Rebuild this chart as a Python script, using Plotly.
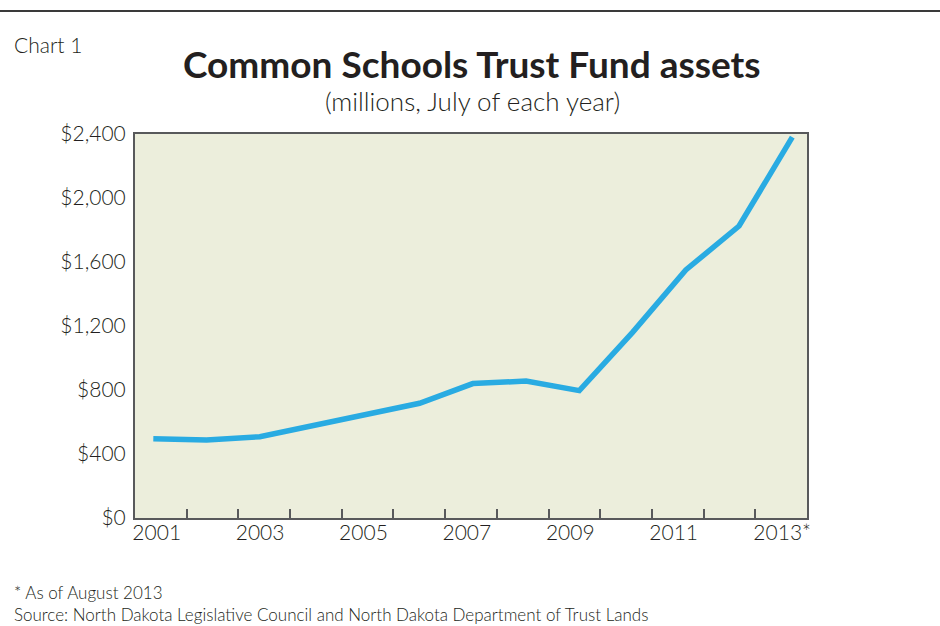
import plotly.graph_objects as go

# ---- data ----
years = [2001, 2002, 2003, 2004, 2005, 2006, 2007, 2008, 2009, 2010, 2011, 2012, 2013]
assets = [495, 488, 508, 580, 648, 717, 840, 856, 796, 1160, 1550, 1825, 2380]
x_tick_labels = ["2001", "2003", "2005", "2007", "2009", "2011", "2013*"]
y_tick_values = [0, 400, 800, 1200, 1600, 2000, 2400]
y_tick_labels = ["$0", "$400", "$800", "$1,200", "$1,600", "$2,000", "$2,400"]

FONT = "Lato"
TXT = "#231f20"
LINE = "#29abe2"
BG = "#eceedc"
AX = "#58595b"

fig = go.Figure()
fig.add_trace(go.Scatter(
    x=years, y=assets, mode="lines",
    line=dict(color=LINE, width=5.5),
    showlegend=False, hoverinfo="x+y",
))
# helper (empty) traces so the overlaid category axes are drawn
fig.add_trace(go.Scatter(x=[None], y=[None], xaxis="x2", showlegend=False, hoverinfo="skip"))
fig.add_trace(go.Scatter(x=[None], y=[None], xaxis="x3", showlegend=False, hoverinfo="skip"))

n_slots = len(years)
tick_marks = list(range(1, n_slots))
label_pos = [0.42 + 2 * i for i in range(len(x_tick_labels))]
label_pos[-1] += 0.1  # account for trailing asterisk

light = dict(family=FONT, color=TXT, weight=300)

fig.update_layout(
    width=940, height=626,
    margin=dict(l=135, r=133, t=134, b=108),
    paper_bgcolor="white",
    plot_bgcolor=BG,
    font=dict(family=FONT, color=TXT),
    xaxis=dict(
        range=[2000.656, 2013.276], showticklabels=False, ticks="",
        showgrid=False, zeroline=False,
        showline=True, linecolor=AX, linewidth=2, mirror=True,
    ),
    xaxis2=dict(
        overlaying="x", anchor="y", range=[0, n_slots],
        tickmode="array", tickvals=tick_marks, ticktext=[""] * len(tick_marks),
        ticks="inside", ticklen=9, tickwidth=1.5, tickcolor=AX,
        showgrid=False, zeroline=False, showline=False,
    ),
    xaxis3=dict(
        overlaying="x", anchor="y", range=[0, n_slots],
        tickmode="array", tickvals=label_pos, ticktext=x_tick_labels,
        ticks="", showgrid=False, zeroline=False, showline=False,
        tickfont=dict(size=21, **light),
    ),
    yaxis=dict(
        range=[0, 2400], tickmode="array", tickvals=y_tick_values, ticktext=y_tick_labels,
        ticks="outside", ticklen=3, tickcolor="rgba(0,0,0,0)",
        tickfont=dict(size=21, **light),
        showgrid=False, zeroline=False,
        showline=True, linecolor=AX, linewidth=2, mirror=True,
    ),
    shapes=[dict(type="line", xref="paper", yref="paper",
                 x0=-135 / 672, x1=(940 - 135) / 672, y0=1 + 123 / 384, y1=1 + 123 / 384,
                 line=dict(color="#3a3a3a", width=2))],
    annotations=[
        dict(text="<b>Common Schools Trust Fund assets</b>", xref="paper", yref="paper",
             x=(472 - 135) / 672, y=1 + (134 - 64) / 384, xanchor="center", yanchor="middle",
             showarrow=False, font=dict(size=37, family=FONT, color=TXT)),
        dict(text="(millions, July of each year)", xref="paper", yref="paper",
             x=(472 - 135) / 672, y=1 + (134 - 101) / 384, xanchor="center", yanchor="middle",
             showarrow=False, font=dict(size=26, **light)),
        dict(text="Chart 1", xref="paper", yref="paper",
             x=-123 / 672, y=1 + (134 - 44) / 384, xanchor="left", yanchor="middle",
             showarrow=False, font=dict(size=21, **light)),
        dict(text="* As of August 2013", xref="paper", yref="paper",
             x=-123 / 672, y=-(592 - 518) / 384, xanchor="left", yanchor="middle",
             showarrow=False, font=dict(size=17, **light)),
        dict(text="Source: North Dakota Legislative Council and North Dakota Department of Trust Lands",
             xref="paper", yref="paper",
             x=-123 / 672, y=-(614 - 518) / 384, xanchor="left", yanchor="middle",
             showarrow=False, font=dict(size=17, **light)),
    ],
)

fig.write_html("out.html")
